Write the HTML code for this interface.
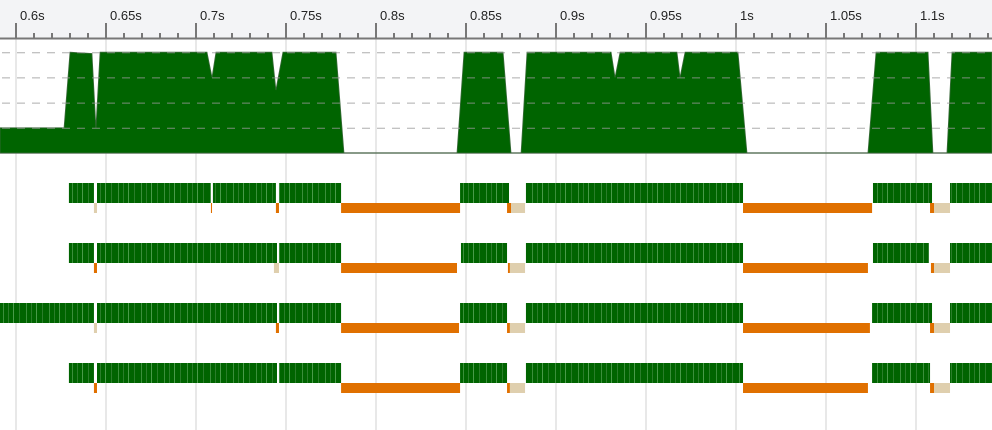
<!DOCTYPE html>
<html><head><meta charset="utf-8"><style>
html,body{margin:0;padding:0;background:#fff;width:992px;height:430px;overflow:hidden}
svg{display:block;font-family:"Liberation Sans","DejaVu Sans",sans-serif}
</style></head><body>
<svg id="c" width="992" height="430" xmlns="http://www.w3.org/2000/svg">
<defs>
<pattern id="stripes" width="23" height="20" patternUnits="userSpaceOnUse">
<rect width="23" height="20" fill="#006400"/>
<rect x="3" width="1" height="20" fill="#3b8f3b"/><rect x="8" width="1" height="20" fill="#2a7d2a"/>
<rect x="13" width="1" height="20" fill="#4a9a4a"/><rect x="19" width="1" height="20" fill="#2a7d2a"/>
</pattern>
</defs>
<rect x="0" y="0" width="992" height="38" fill="#f3f4f6"/>
<g id="grid"></g><g id="area"></g><g id="rows"></g><g id="axis"></g>
</svg>
<script>
const axisTicks = [0.6,0.65,0.7,0.75,0.8,0.85,0.9,0.95,1.0,1.05,1.1];
const tickLabels = ["0.6s","0.65s","0.7s","0.75s","0.8s","0.85s","0.9s","0.95s","1s","1.05s","1.1s"];
const loadTimes = [0.5911,0.6267,0.63,0.6422,0.6444,0.6467,0.7061,0.7089,0.7111,0.7422,0.7444,0.7483,0.7778,0.7822,0.845,0.8489,0.8706,0.875,0.8806,0.8839,0.9306,0.9328,0.9356,0.9672,0.9689,0.9717,1.0011,1.0061,1.0733,1.0778,1.1067,1.1094,1.1172,1.12,1.1422];
const loadValues = [1,1,4,3.95,1,4,4,3,4,4,2.5,4,4,0,0,4,4,0,0,4,4,3,4,4,3,4,4,0,0,4,4,0,0,4,4];
const runSpans = [
 [[0.6294,0.6433],[0.645,0.7083],[0.7094,0.7444],[0.7461,0.7806],[0.8467,0.8739],[0.8833,1.0039],[1.0761,1.1089],[1.1189,1.1422]],
 [[0.6294,0.6433],[0.645,0.745],[0.7461,0.7806],[0.8472,0.8728],[0.8833,1.0039],[1.0761,1.1072],[1.1189,1.1422]],
 [[0.5911,0.6433],[0.645,0.745],[0.7461,0.7806],[0.8467,0.8728],[0.8833,1.0039],[1.0756,1.1089],[1.1189,1.1422]],
 [[0.6294,0.6433],[0.645,0.745],[0.7461,0.7806],[0.8467,0.8728],[0.8833,1.0039],[1.0756,1.1078],[1.1189,1.1422]]
];
const waitSpans = [
 [[0.7083,0.7089],[0.7444,0.7461],[0.7806,0.8467],[0.8728,0.875],[1.0039,1.0756],[1.1078,1.11]],
 [[0.6433,0.645],[0.7806,0.845],[0.8733,0.8744],[1.0039,1.0733],[1.1083,1.11]],
 [[0.7444,0.7461],[0.7806,0.8461],[0.8728,0.8744],[1.0039,1.0744],[1.1078,1.11]],
 [[0.6433,0.645],[0.7806,0.8467],[0.8728,0.8744],[1.0039,1.0733],[1.1078,1.11]]
];
const sleepSpans = [
 [[0.6433,0.645],[0.875,0.8828],[1.11,1.1189]],
 [[0.7433,0.7461],[0.8744,0.8828],[1.11,1.1189]],
 [[0.6433,0.645],[0.8744,0.8828],[1.11,1.1189]],
 [[0.8744,0.8828],[1.11,1.1189]]
];
const NS="http://www.w3.org/2000/svg";
const X=t=>16+(t-0.6)*1800;
const Y=v=>153-v*25.2;
function mk(tag,attrs,parent){const e=document.createElementNS(NS,tag);for(const k in attrs)e.setAttribute(k,attrs[k]);parent.appendChild(e);return e;}
const grid=document.getElementById('grid'),area=document.getElementById('area'),rows=document.getElementById('rows'),axis=document.getElementById('axis');
axisTicks.forEach((t,i)=>{
 const g=mk('line',{x1:X(t),x2:X(t),y1:38,y2:430,stroke:'#e8e8e8','stroke-width':2},grid);
 
 
 const tk=mk('line',{x1:X(t),x2:X(t),y1:23,y2:38,stroke:'#777','stroke-width':2},axis);
 
 
 const tx=mk('text',{x:X(t)+4,y:20,'font-size':13,fill:'#222'},axis);
 tx.textContent=tickLabels[i];
 
 
});
for(let t=0.59;t<1.15;t+=0.01){
 const x=X(t);if(x<0||x>992)continue;
 if(axisTicks.some(a=>Math.abs(a-t)<1e-6))continue;
 const m=mk('line',{x1:x,x2:x,y1:33,y2:38,stroke:'#777','stroke-width':2},axis);
 
 
}
const bl=mk('line',{x1:0,x2:992,y1:38.5,y2:38.5,stroke:'#777','stroke-width':2},axis);


const base=mk('line',{x1:0,x2:992,y1:153,y2:153,stroke:'#888','stroke-width':1.5},area);


let d='M'+X(loadTimes[0])+','+Y(0);
loadTimes.forEach((t,i)=>{d+=' L'+X(t)+','+Y(loadValues[i]);});
d+=' L'+X(loadTimes[loadTimes.length-1])+','+Y(0)+' Z';
const ap=mk('path',{d:d,fill:'#006400',stroke:'#3a6a3a','stroke-width':0.8},area);


[1,2,3,4].forEach(v=>{
 const l=mk('line',{x1:2,x2:992,y1:Y(v)+0.5,y2:Y(v)+0.5,stroke:'#999','stroke-width':1,'stroke-dasharray':'8,7','stroke-opacity':0.8},area);
 
 
});
runSpans.forEach((spans,r)=>{
 const y0=183+r*60;
 spans.forEach(s=>{
  const e=mk('rect',{x:X(s[0]),y:y0,width:X(s[1])-X(s[0]),height:20,fill:'url(#stripes)'},rows);
  
  
 });
 waitSpans[r].forEach(s=>{
  const e=mk('rect',{x:X(s[0]),y:y0+20,width:Math.max(1,X(s[1])-X(s[0])),height:10,fill:'#e07000'},rows);
  
  
 });
 sleepSpans[r].forEach(s=>{
  const e=mk('rect',{x:X(s[0]),y:y0+20,width:Math.max(1,X(s[1])-X(s[0])),height:10,fill:'#dfcfae'},rows);
  
  
 });
});
</script>
</body></html>
